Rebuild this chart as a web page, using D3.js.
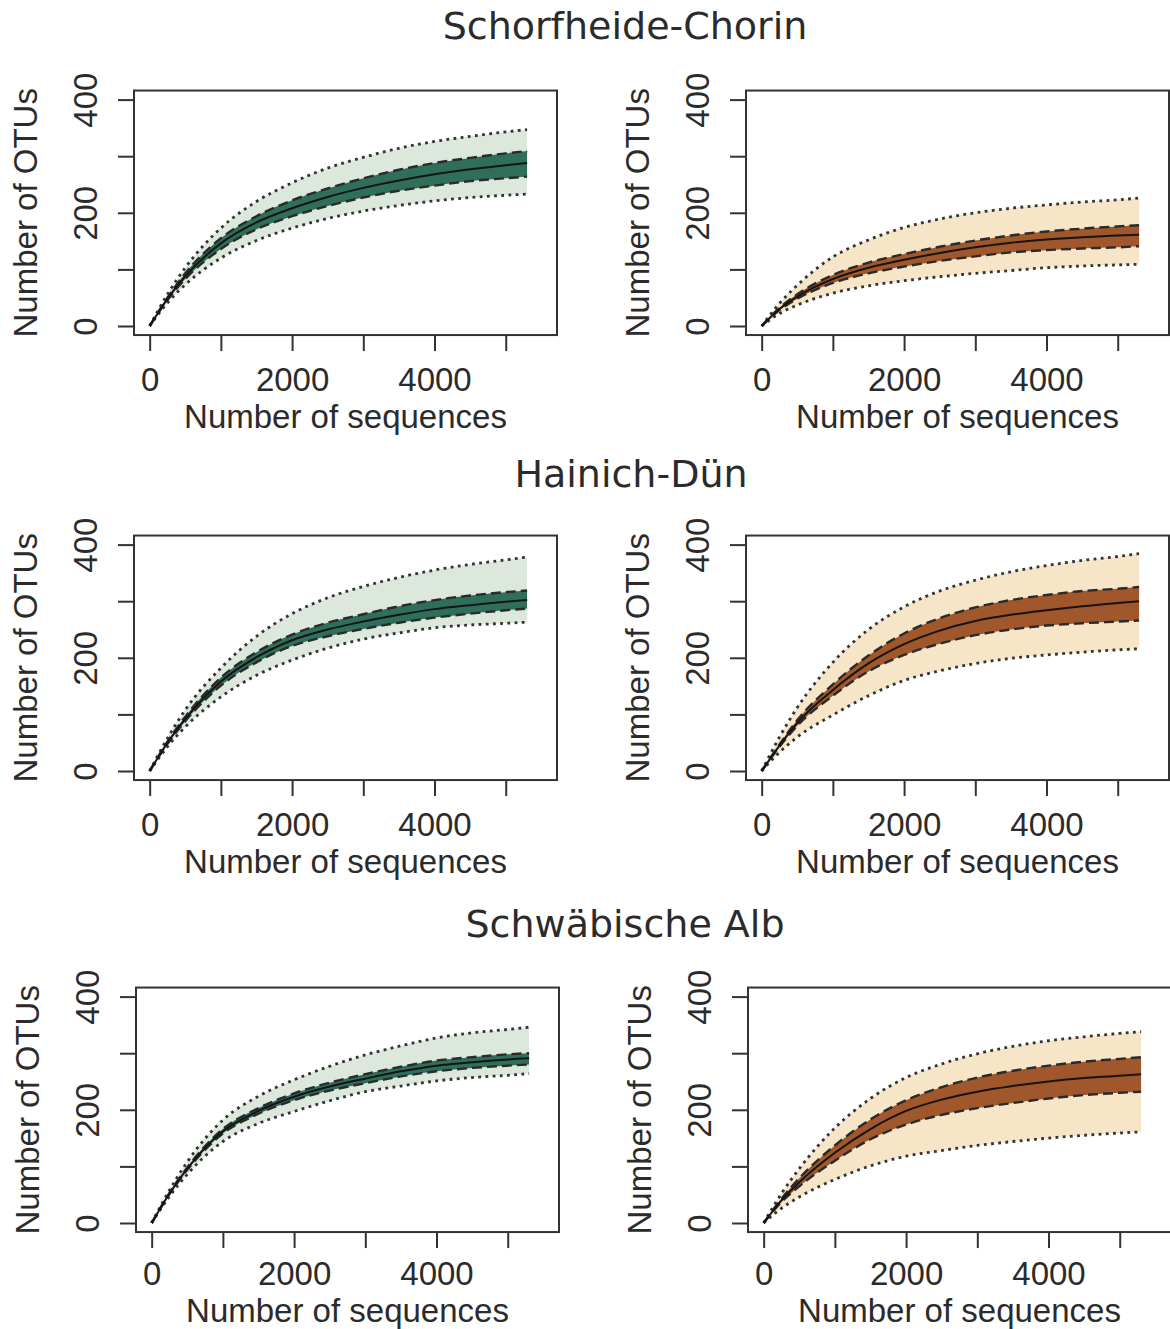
<!DOCTYPE html>
<html><head><meta charset="utf-8">
<script src="https://cdn.jsdelivr.net/npm/d3@7"></script>
<style>body{margin:0;background:#fff}svg{display:block}</style>
</head><body><svg id="c" width="1170" height="1329"></svg>
<script>
// ---------------- data ----------------
const seqDepth = [0, 250, 500, 1000, 1500, 2000, 2500, 3000, 3500, 4000, 4500, 5000, 5300];
const regions = ["Schorfheide-Chorin", "Hainich-Dün", "Schwäbische Alb"];
const xTicks = [0, 1000, 2000, 3000, 4000, 5000];
const xTickLabels = ["0", "", "2000", "", "4000", ""];
const yTicks = [0, 100, 200, 300, 400];
const yTickLabels = ["0", "", "200", "", "400"];
const xLabel = "Number of sequences";
const yLabel = "Number of OTUs";

// Schorfheide-Chorin, green
const scGreenMean  = [0, 48, 88, 146, 183, 208, 228, 244, 257, 268, 277, 284, 288];
const scGreenSdUp  = [0, 50, 93, 155, 194, 222, 243, 261, 276, 288, 297, 305, 309];
const scGreenSdLo  = [0, 46, 83, 136, 171, 194, 212, 227, 239, 248, 256, 261, 264];
const scGreenCiUp  = [0, 56, 103, 173, 220, 253, 279, 298, 314, 326, 335, 343, 347];
const scGreenCiLo  = [0, 41, 73, 120, 151, 173, 190, 203, 213, 221, 227, 231, 233];
// Schorfheide-Chorin, brown
const scBrownMean  = [0, 30, 52, 83, 103, 117, 129, 139, 147, 153, 157, 160, 161];
const scBrownSdUp  = [0, 32, 56, 90, 112, 127, 140, 151, 160, 167, 172, 176, 178];
const scBrownSdLo  = [0, 28, 48, 76, 93, 105, 115, 123, 130, 134, 137, 139, 141];
const scBrownCiUp  = [0, 40, 72, 122, 152, 174, 189, 200, 208, 214, 219, 223, 226];
const scBrownCiLo  = [0, 22, 37, 58, 71, 80, 87, 93, 98, 103, 106, 108, 109];
// Hainich-Dün, green
const hdGreenMean  = [0, 50, 92, 158, 201, 231, 250, 264, 276, 286, 293, 299, 302];
const hdGreenSdUp  = [0, 52, 96, 165, 210, 241, 262, 277, 291, 302, 310, 316, 319];
const hdGreenSdLo  = [0, 48, 88, 151, 192, 221, 238, 251, 262, 271, 278, 284, 287];
const hdGreenCiUp  = [0, 58, 108, 182, 238, 278, 306, 326, 342, 355, 365, 373, 378];
const hdGreenCiLo  = [0, 43, 78, 131, 169, 196, 217, 233, 244, 253, 258, 261, 263];
// Hainich-Dün, brown
const hdBrownMean  = [0, 45, 85, 143, 190, 224, 248, 265, 276, 284, 291, 297, 300];
const hdBrownSdUp  = [0, 47, 90, 153, 204, 243, 270, 289, 302, 311, 318, 322, 325];
const hdBrownSdLo  = [0, 43, 80, 133, 176, 205, 225, 240, 250, 257, 261, 264, 266];
const hdBrownCiUp  = [0, 60, 112, 192, 250, 290, 318, 337, 352, 363, 372, 379, 384];
const hdBrownCiLo  = [0, 33, 60, 99, 133, 160, 177, 190, 199, 205, 210, 214, 216];
// Schwäbische Alb, green
const saGreenMean  = [0, 52, 96, 162, 198, 223, 241, 255, 268, 278, 284, 289, 291];
const saGreenSdUp  = [0, 53, 98, 166, 203, 229, 248, 263, 276, 287, 293, 298, 300];
const saGreenSdLo  = [0, 51, 94, 158, 193, 217, 234, 247, 259, 268, 274, 278, 280];
const saGreenCiUp  = [0, 58, 108, 182, 224, 253, 277, 297, 313, 327, 336, 342, 346];
const saGreenCiLo  = [0, 47, 86, 144, 176, 197, 216, 232, 242, 251, 257, 261, 264];
// Schwäbische Alb, brown
const saBrownMean  = [0, 40, 72, 124, 166, 198, 218, 232, 242, 250, 256, 260, 263];
const saBrownSdUp  = [0, 43, 79, 137, 183, 217, 240, 257, 269, 278, 285, 290, 293];
const saBrownSdLo  = [0, 37, 65, 110, 148, 174, 191, 203, 212, 220, 226, 230, 232];
const saBrownCiUp  = [0, 52, 96, 168, 220, 257, 281, 299, 312, 322, 329, 335, 338];
const saBrownCiLo  = [0, 26, 46, 77, 101, 118, 128, 137, 144, 150, 155, 159, 161];

// ---------------- layout / style ----------------
const palette = {
  green: {dark: "#2f6f5a", light: "#dde8dc"},
  brown: {dark: "#a0572c", light: "#f6e6c7"}
};
const panels = [
  {row: 0, col: 0, pal: "green", mean: scGreenMean, sdUp: scGreenSdUp, sdLo: scGreenSdLo, ciUp: scGreenCiUp, ciLo: scGreenCiLo},
  {row: 0, col: 1, pal: "brown", mean: scBrownMean, sdUp: scBrownSdUp, sdLo: scBrownSdLo, ciUp: scBrownCiUp, ciLo: scBrownCiLo},
  {row: 1, col: 0, pal: "green", mean: hdGreenMean, sdUp: hdGreenSdUp, sdLo: hdGreenSdLo, ciUp: hdGreenCiUp, ciLo: hdGreenCiLo},
  {row: 1, col: 1, pal: "brown", mean: hdBrownMean, sdUp: hdBrownSdUp, sdLo: hdBrownSdLo, ciUp: hdBrownCiUp, ciLo: hdBrownCiLo},
  {row: 2, col: 0, pal: "green", mean: saGreenMean, sdUp: saGreenSdUp, sdLo: saGreenSdLo, ciUp: saGreenCiUp, ciLo: saGreenCiLo},
  {row: 2, col: 1, pal: "brown", mean: saBrownMean, sdUp: saBrownSdUp, sdLo: saBrownSdLo, ciUp: saBrownCiUp, ciLo: saBrownCiLo}
];
const rowZeroY = [326, 771, 1223];
const rowShiftX = [0, 0, 2];
const rowTickGap = [56, 56, 53];
const rowTitleGap = [102, 102, 99];
const colBoxLeft = [134, 746];
const boxWidth = 423;
const pxPerUnit = 0.566;
const titlePos = [{x: 625, y: 39}, {x: 631, y: 487}, {x: 625, y: 937}];
const ink = "#2b2b2b";
const axisFont = "'Liberation Sans', Arial, Helvetica, sans-serif";
const titleFont = "'DejaVu Sans', Verdana, sans-serif";

const svg = d3.select("#c");

regions.forEach((r, i) => {
  svg.append("text")
    .attr("x", titlePos[i].x).attr("y", titlePos[i].y)
    .attr("text-anchor", "middle")
    .style("font-family", titleFont).style("font-size", "38px").style("fill", ink)
    .text(r);
});

panels.forEach(p => {
  const left = colBoxLeft[p.col] + rowShiftX[p.row];
  const right = left + boxWidth;
  const y0 = rowZeroY[p.row];
  const bottom = y0 + 16 * pxPerUnit;
  const top = y0 - 416 * pxPerUnit;

  const x = d3.scaleLinear().domain([-220, 5720]).range([left, right]);
  const y = d3.scaleLinear().domain([-16, 416]).range([bottom, top]);

  const g = svg.append("g");
  const pts = seqDepth.map((d, i) => i);

  const area = (lo, hi) => d3.area()
    .x(i => x(seqDepth[i])).y0(i => y(lo[i])).y1(i => y(hi[i]))
    .curve(d3.curveMonotoneX)(pts);
  const line = (v) => d3.line()
    .x(i => x(seqDepth[i])).y(i => y(v[i]))
    .curve(d3.curveMonotoneX)(pts);

  g.append("path").attr("d", area(p.ciLo, p.ciUp)).attr("fill", palette[p.pal].light);
  g.append("path").attr("d", area(p.sdLo, p.sdUp)).attr("fill", palette[p.pal].dark);

  [p.ciUp, p.ciLo].forEach(v => g.append("path").attr("d", line(v))
    .attr("fill", "none").attr("stroke", "#333").attr("stroke-width", 2.8)
    .attr("stroke-dasharray", "2.8,4.4"));
  [p.sdUp, p.sdLo].forEach(v => g.append("path").attr("d", line(v))
    .attr("fill", "none").attr("stroke", "#2a2a2a").attr("stroke-width", 2.4)
    .attr("stroke-dasharray", "10,5"));
  g.append("path").attr("d", line(p.mean))
    .attr("fill", "none").attr("stroke", "#151515").attr("stroke-width", 2);

  // box
  g.append("rect").attr("x", left).attr("y", top)
    .attr("width", right - left).attr("height", bottom - top)
    .attr("fill", "none").attr("stroke", "#333").attr("stroke-width", 2);

  // x axis
  const xa = g.append("g").attr("transform", `translate(0,${bottom})`)
    .call(d3.axisBottom(x).tickValues(xTicks).tickFormat((d, i) => xTickLabels[i])
      .tickSize(16).tickSizeOuter(0));
  xa.select(".domain").remove();
  xa.selectAll("line").attr("stroke", "#333").attr("stroke-width", 2);
  xa.selectAll("text").attr("y", rowTickGap[p.row]).attr("dy", null)
    .style("font-family", axisFont).style("font-size", "33px").style("fill", ink);

  // y axis
  const ya = g.append("g").attr("transform", `translate(${left},0)`)
    .call(d3.axisLeft(y).tickValues(yTicks).tickFormat((d, i) => yTickLabels[i])
      .tickSize(16).tickSizeOuter(0));
  ya.select(".domain").remove();
  ya.selectAll("line").attr("stroke", "#333").attr("stroke-width", 2);
  ya.selectAll("text").attr("x", 0).attr("y", -37).attr("dy", null)
    .attr("transform", "rotate(-90)").attr("text-anchor", "middle")
    .style("font-family", axisFont).style("font-size", "33px").style("fill", ink);

  // axis titles
  g.append("text").attr("x", (left + right) / 2).attr("y", y0 + rowTitleGap[p.row])
    .attr("text-anchor", "middle")
    .style("font-family", axisFont).style("font-size", "33px").style("fill", ink)
    .text(xLabel);
  g.append("text")
    .attr("transform", `translate(${left - 97},${(top + bottom) / 2}) rotate(-90)`)
    .attr("text-anchor", "middle")
    .style("font-family", axisFont).style("font-size", "33px").style("fill", ink)
    .text(yLabel);
});
</script>
</body></html>
